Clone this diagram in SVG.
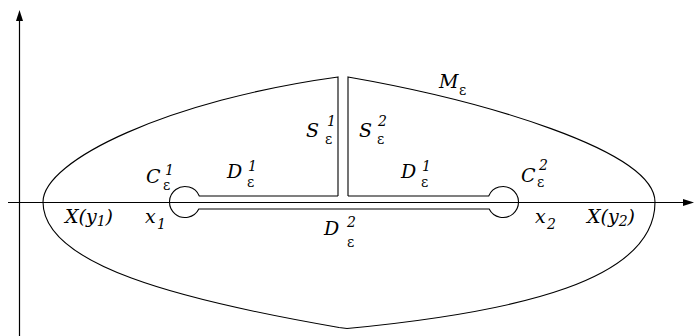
<svg xmlns="http://www.w3.org/2000/svg" width="694" height="336" viewBox="0 0 694 336">
<style>
.ln{fill:none;stroke:#000;stroke-width:1.1}
.ax{fill:none;stroke:#000;stroke-width:1.2}
.ah{fill:#000}
text{font-family:"DejaVu Serif","Liberation Serif",serif;font-style:italic;fill:#000}
.m{font-size:19px}
.i{font-size:14px}
.e{font-size:14px;font-style:normal}
</style>
<rect width="694" height="336" fill="#fff"/>
<g id="axes">
<line class="ax" x1="8" y1="202.5" x2="686" y2="202.5"/>
<polygon class="ah" points="694,202.5 683,199 683,206"/>
<line class="ax" x1="19.5" y1="336" x2="19.5" y2="18"/>
<polygon class="ah" points="19.5,10 16,21 23,21"/>
</g>
<g id="boundary">
<path class="ln" d="M338,196 L338,77 C170,100 43,160 43,202 C43,265 180,300 339,327.5 L347,328.5 C520,312 655,280 655,202 C655,150 480,100 348,77 L348,196"/>
<path class="ln" d="M338,196 L199.29,196 A15.5,15.5 0 1 0 198.83,209 L489.17,209 A15.5,15.5 0 1 0 488.71,196 L348,196"/>
</g>
<g id="labels">
<text class="m" x="306" y="137">S</text><text class="i" x="327" y="126">1</text><text class="e" x="325" y="144">ε</text>
<text class="m" x="359" y="137">S</text><text class="i" x="378" y="126">2</text><text class="e" x="377" y="144">ε</text>
<text class="m" x="439" y="88">M</text><text class="e" x="459" y="95">ε</text>
<text class="m" x="146" y="183">C</text><text class="i" x="165" y="175">1</text><text class="e" x="163" y="190">ε</text>
<text class="m" x="227" y="178">D</text><text class="i" x="248" y="171">1</text><text class="e" x="247" y="187">ε</text>
<text class="m" x="401" y="178">D</text><text class="i" x="422" y="171">1</text><text class="e" x="421" y="187">ε</text>
<text class="m" x="521" y="182">C</text><text class="i" x="539" y="170">2</text><text class="e" x="537" y="187">ε</text>
<text class="m" x="65" y="223">X(y<tspan class="i" dy="3">1</tspan><tspan dy="-3">)</tspan></text>
<text class="m" x="145" y="223">x</text><text class="i" x="157" y="229">1</text>
<text class="m" x="324" y="235">D</text><text class="i" x="347" y="227">2</text><text class="e" x="347" y="247">ε</text>
<text class="m" x="535" y="223">x</text><text class="i" x="547" y="229">2</text>
<text class="m" x="587" y="223">X(y<tspan class="i" dy="3">2</tspan><tspan dy="-3">)</tspan></text>
</g>
</svg>
